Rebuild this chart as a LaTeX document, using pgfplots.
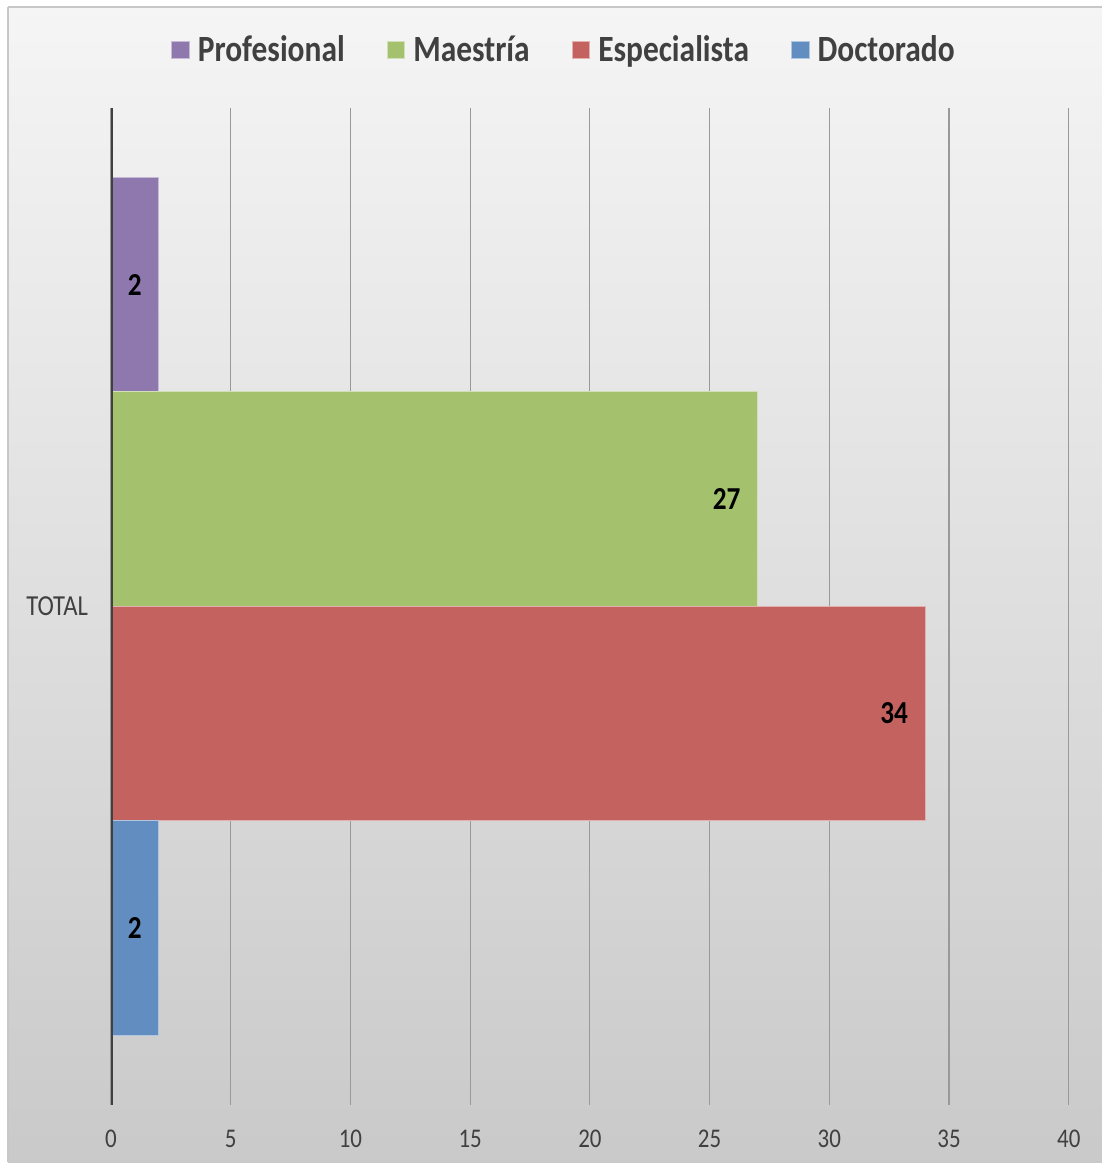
\documentclass[border=0pt]{standalone}
\usepackage{pgfplots}
\pgfplotsset{compat=1.18}
\usepackage{fontspec}
\setmainfont[FakeStretch=0.85]{Carlito}
\usetikzlibrary{backgrounds}
\definecolor{cProf}{RGB}{142,120,174}
\definecolor{cMae}{RGB}{164,193,109}
\definecolor{cEsp}{RGB}{196,98,95}
\definecolor{cDoc}{RGB}{98,141,193}
\definecolor{txt}{RGB}{64,64,64}
\definecolor{axl}{RGB}{64,64,64}
\begin{document}
\begin{tikzpicture}
\begin{axis}[
  scale only axis,
  width=479pt, height=498.5pt,
  xbar, bar width=1,
  xmin=0, xmax=40, ymin=-2.324, ymax=2.324,
  xtick={0,5,...,40}, ytick={0}, yticklabels={TOTAL},
  xmajorgrids,
  major grid style={draw=black!40, line width=0.6pt},
  major tick length=0pt,
  axis x line*=bottom, axis y line*=left,
  x axis line style={draw=none},
  y axis line style={draw=none},
  /pgf/number format/assume math mode=true,
  tick label style={font=\fontsize{13.5}{15}\selectfont, text=txt},
  xticklabel style={yshift=-9pt},
  yticklabel style={xshift=-8pt, font=\fontsize{14.5}{16}\selectfont},
  nodes near coords,
  every node near coord/.append style={anchor=east, xshift=-5pt, font=\bfseries\fontsize{16}{18}\selectfont, text=black},
  legend style={at={(0.474,1.058)}, anchor=center, draw=none, fill=none,
    font=\bfseries\fontsize{18.5}{20}\selectfont, text=txt, legend columns=-1,
    /tikz/every even column/.append style={column sep=19pt}},
  legend image code/.code={\fill[#1] (0pt,-4.4pt) rectangle (8.8pt,4.4pt); \path (10.8pt,0pt);},
]
\addplot[bar shift=0, fill=cProf, draw=cProf!50!white, line width=0.5pt] coordinates {(2,1.5)};
\addplot[bar shift=0, fill=cMae, draw=cMae!50!white, line width=0.5pt] coordinates {(27,0.5)};
\addplot[bar shift=0, fill=cEsp, draw=cEsp!50!white, line width=0.5pt] coordinates {(34,-0.5)};
\addplot[bar shift=0, fill=cDoc, draw=cDoc!50!white, line width=0.5pt] coordinates {(2,-1.5)};
\legend{Profesional, Maestría, Especialista, Doctorado}
\draw[axl, line width=2pt] (axis cs:0,-2.324) -- (axis cs:0,2.324);
\coordinate (IMGTL) at (rel axis cs:-0.1159,1.1083);
\coordinate (IMGBR) at (rel axis cs:1.0355,-0.0582);
\coordinate (FRTL) at (rel axis cs:-0.1075,1.1013);
\coordinate (FRBR) at (rel axis cs:1.0345,-0.0575);
\end{axis}
\begin{scope}[on background layer]
\fill[white] (IMGTL) rectangle (IMGBR);
\shade[top color=black!4, bottom color=black!21] (FRTL) rectangle (FRBR);
\draw[black!22, line width=1pt] (FRTL) -- (FRTL -| FRBR);
\draw[black!22, line width=1pt] (FRTL) -- (FRTL |- FRBR);
\end{scope}
\useasboundingbox (IMGTL) rectangle (IMGBR);
\end{tikzpicture}
\end{document}
